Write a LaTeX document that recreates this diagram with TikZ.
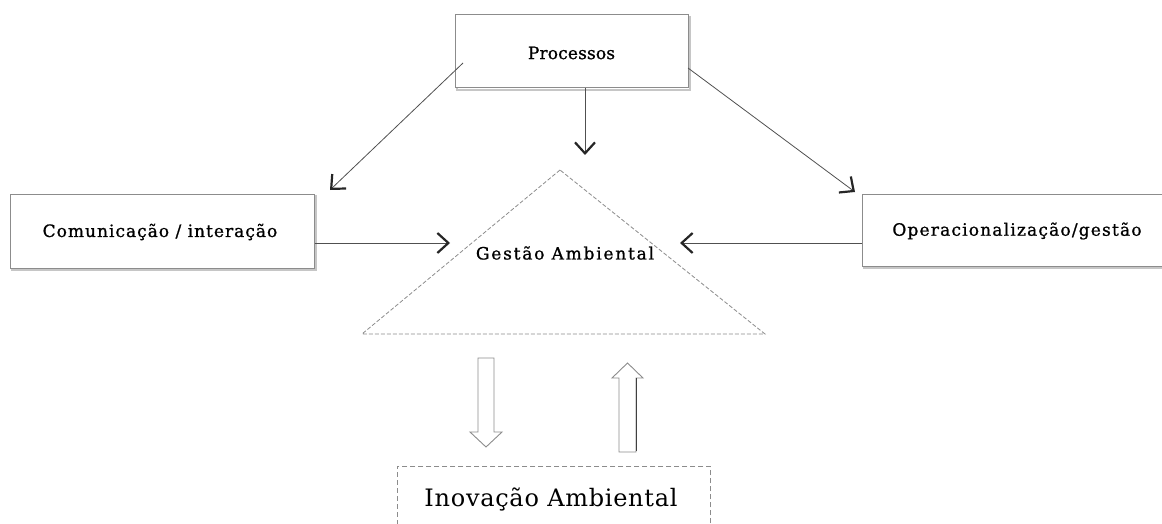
\documentclass[tikz,border=0pt]{standalone}
\usepackage{fontspec}
\setmainfont{DejaVu Serif}
\usetikzlibrary{arrows.meta}
\definecolor{boxgray}{RGB}{140,140,140}
\definecolor{linegray}{RGB}{80,80,80}
\newfontfamily\lsA[LetterSpace=1,FakeBold=1]{DejaVu Serif}
\newfontfamily\lsB[LetterSpace=6,FakeBold=1]{DejaVu Serif}
\newfontfamily\lsC[LetterSpace=7,FakeBold=1]{DejaVu Serif}
\newfontfamily\lsD[LetterSpace=10.5,FakeBold=1]{DejaVu Serif}
\newfontfamily\lsE[LetterSpace=3]{DejaVu Serif}
\tikzset{
  boxnode/.style={draw=boxgray, line width=1pt, fill=white, inner sep=0pt},
  lbl/.style={text=black, inner sep=0pt},
  conn/.style={draw=linegray, line width=0.8pt, -{Straight Barb[length=11pt,width=20pt,line width=2.2pt,color=black!85]}},
  dashgray/.style={draw=boxgray, line width=0.8pt, dash pattern=on 5pt off 3pt},
  hollow/.style={draw=boxgray, line width=0.9pt, fill=white},
}
\begin{document}
\begin{tikzpicture}[x=1pt,y=-1pt]
\useasboundingbox (0,0) rectangle (1162,524);
% boxes
\draw[boxgray!50, line width=1.5pt] (457,17) rectangle (690,90);
\node[boxnode, minimum width=233pt, minimum height=73pt] (proc) at (571.5,51.5) {};
\node[lbl] (proct) at (571.5,53) {\lsA\fontsize{17}{20}\selectfont Processos};
\draw[boxgray!50, line width=1.5pt] (12,196) rectangle (316,270);
\node[boxnode, minimum width=304pt, minimum height=74pt] (com) at (162,231) {};
\node[lbl] (comt) at (160,232) {\lsB\fontsize{17}{20}\selectfont Comunicação / interação};
\draw[boxgray!50, line width=1.5pt] (864,196) rectangle (1166,268);
\node[boxnode, minimum width=310pt, minimum height=72pt] (oper) at (1017,230) {};
\node[lbl] (opert) at (1017,231) {\lsC\fontsize{17}{20}\selectfont Operacionalização/gestão};
% triangle
\coordinate (apex) at (560,170);
\coordinate (bl) at (362,334);
\coordinate (br) at (765,334);
\draw[dashgray, dash pattern=on 4pt off 2pt] (apex) -- (bl) -- (br) -- cycle;
\node[lbl] (ga) at (565,253) {\lsD\fontsize{17}{20}\selectfont Gestão Ambiental};
% connector ends
\coordinate (pl) at (463,63);
\coordinate (plend) at (330,190);
\coordinate (pm) at (585,88);
\coordinate (pmend) at (585,155);
\coordinate (pr) at (688,68);
\coordinate (prend) at (855,192);
\coordinate (garin) at (450,243);
\coordinate (garout) at (680,243);
\draw[conn] (pl) -- (plend);
\draw[conn] (pm) -- (pmend);
\draw[conn] (pr) -- (prend);
\draw[conn] (com.east |- garin) -- (garin);
\draw[conn] (oper.west |- garout) -- (garout);
% hollow arrows
\draw[hollow] (478,358) -- (494,358) -- (494,432) -- (502,432) -- (486,447) -- (470,432) -- (478,432) -- cycle;
\draw[hollow] (619,452) -- (636,452) -- (636,378) -- (643,378) -- (627.5,363) -- (612,378) -- (619,378) -- cycle;
\draw[draw=black!75, line width=1pt] (636,451) -- (636,378);
% inovacao box
\node[dashgray, draw, minimum width=313pt, minimum height=80pt, anchor=north west, inner sep=0pt] (inov) at (397,466) {};
\node[lbl] (inovt) at (551,499) {\lsE\fontsize{24}{28}\selectfont Inovação Ambiental};
\end{tikzpicture}
\end{document}
